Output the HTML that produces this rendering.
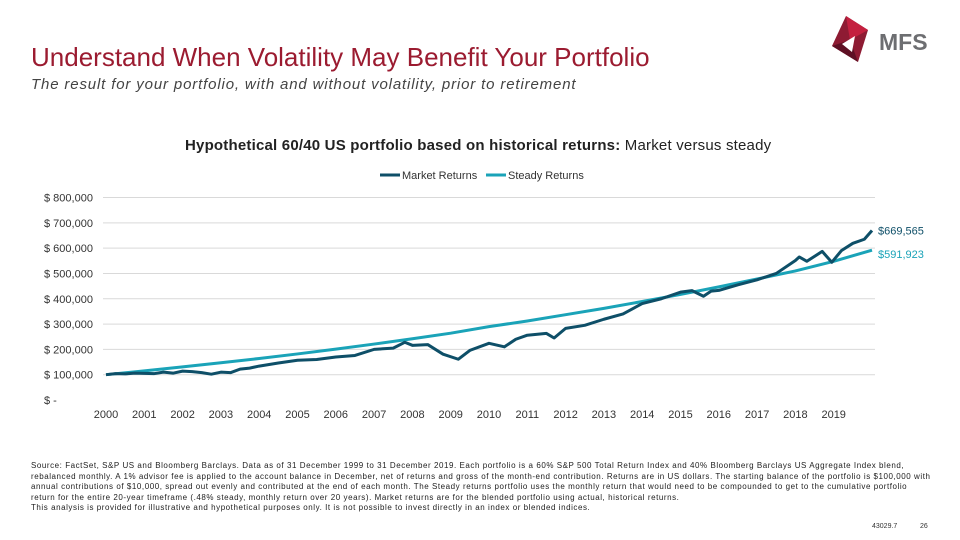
<!DOCTYPE html>
<html><head><meta charset="utf-8">
<style>
body{margin:0;width:960px;height:540px;background:#fff;font-family:"Liberation Sans",sans-serif;overflow:hidden;position:relative}
.abs{position:absolute;white-space:nowrap}
.fn div{white-space:nowrap}
</style></head><body>
<div class="abs" style="left:31px;top:42px;font-size:26px;color:#9b1b30">Understand When Volatility May Benefit Your Portfolio</div>
<div class="abs" style="left:31px;top:76px;font-size:15px;letter-spacing:0.85px;font-style:italic;color:#444">The result for your portfolio, with and without volatility, prior to retirement</div>
<svg class="abs" style="left:828px;top:14px" width="120" height="52" viewBox="0 0 120 52">
<polygon points="18,2 40,16 30,48 4,32" fill="#8e1b33"/><polygon points="18,2 40,16 22,26" fill="#c4203f"/><polygon points="4,32 22,26 30,48" fill="#5e1024"/><polygon points="14,30 27,22 24,38" fill="#fff"/>
<text x="51" y="36" font-size="23" font-weight="bold" fill="#6d6e71" font-family="Liberation Sans,sans-serif">MFS</text></svg>
<div class="abs" style="left:185px;top:137px;font-size:15px;letter-spacing:0.2px;color:#222"><b>Hypothetical 60/40 US portfolio based on historical returns:</b> Market versus steady</div>
<svg id="chart" class="abs" style="left:0;top:160px" width="960" height="270"></svg>
<div class="abs fn" style="left:31px;top:461px;font-size:8px;letter-spacing:0.55px;line-height:10.5px;color:#222">
<div>Source: FactSet, S&amp;P US and Bloomberg Barclays. Data as of 31 December 1999 to 31 December 2019. Each portfolio is a 60% S&amp;P 500 Total Return Index and 40% Bloomberg Barclays US Aggregate Index blend,</div>
<div>rebalanced monthly. A 1% advisor fee is applied to the account balance in December, net of returns and gross of the month-end contribution. Returns are in US dollars. The starting balance of the portfolio is $100,000 with</div>
<div>annual contributions of $10,000, spread out evenly and contributed at the end of each month. The Steady returns portfolio uses the monthly return that would need to be compounded to get to the cumulative portfolio</div>
<div>return for the entire 20-year timeframe (.48% steady, monthly return over 20 years). Market returns are for the blended portfolio using actual, historical returns.</div>
</div>
<div class="abs" style="left:31px;top:503px;font-size:8px;letter-spacing:0.55px;color:#222">This analysis is provided for illustrative and hypothetical purposes only. It is not possible to invest directly in an index or blended indices.</div>
<div class="abs" style="left:872px;top:523px;font-size:7px;color:#333">43029.7</div>
<div class="abs" style="left:920px;top:523px;font-size:7px;color:#333">26</div>
<script>
const yTicks=[0,100000,200000,300000,400000,500000,600000,700000,800000];
const yTickLabels=["$ -","$ 100,000","$ 200,000","$ 300,000","$ 400,000","$ 500,000","$ 600,000","$ 700,000","$ 800,000"];
const xYears=[2000,2001,2002,2003,2004,2005,2006,2007,2008,2009,2010,2011,2012,2013,2014,2015,2016,2017,2018,2019];
const steadyYears=[2000,2001,2002,2003,2004,2005,2006,2007,2008,2009,2010,2011,2012,2013,2014,2015,2016,2017,2018,2019,2020];
const steadyValues=[100000,115000,131000,147000,164000,182000,201000,221000,242000,264000,290000,312000,337000,362000,389000,417000,447000,478000,510000,548000,591923];
const marketYears=[2000,2000.25,2000.5,2000.75,2001,2001.25,2001.5,2001.75,2002,2002.25,2002.5,2002.75,2003,2003.25,2003.5,2003.75,2004,2004.5,2005,2005.5,2006,2006.5,2007,2007.5,2007.8,2008,2008.4,2008.8,2009.2,2009.5,2010,2010.4,2010.7,2011,2011.5,2011.7,2012,2012.5,2013,2013.5,2014,2014.5,2015,2015.3,2015.6,2015.8,2016,2016.5,2017,2017.5,2018,2018.1,2018.3,2018.7,2018.95,2019.2,2019.5,2019.8,2020];
const marketValues=[100000,104000,103000,106000,105000,104000,110000,106000,114000,112000,108000,102000,110000,108000,122000,126000,134000,146000,157000,160000,170000,176000,200000,205000,228000,216000,219000,181000,161000,196000,224000,210000,240000,256000,263000,245000,283000,295000,319000,340000,381000,400000,426000,432000,410000,430000,433000,455000,475000,500000,551000,565000,548000,587000,544000,590000,619000,635000,669565];
const X0=106,X1=872,YB=240,YT=37.5;
const xs=y=>X0+(y-2000)/20*(X1-X0);
const ys=v=>YB-v/800000*(YB-YT);
const svg=document.getElementById('chart');const NS='http://www.w3.org/2000/svg';
function mk(t,a){const e=document.createElementNS(NS,t);for(const k in a)e.setAttribute(k,a[k]);svg.appendChild(e);return e;}
yTicks.forEach((v,i)=>{
 if(v>0){const g=mk('line',{x1:103,x2:875,y1:ys(v),y2:ys(v),stroke:'#d9d9d9','stroke-width':1});
 
 }
 const t=mk('text',{x:44,y:ys(v)+4,'font-size':11,fill:'#333','font-family':'Liberation Sans,sans-serif'});t.textContent=yTickLabels[i];
 
 
});
xYears.forEach(y=>{const t=mk('text',{x:xs(y),y:258,'font-size':11,fill:'#333','text-anchor':'middle','font-family':'Liberation Sans,sans-serif'});t.textContent=y;
 
 });
const sp=mk('polyline',{points:steadyYears.map((y,i)=>xs(y)+','+ys(steadyValues[i])).join(' '),fill:'none',stroke:'#1aa3b8','stroke-width':3});


const mp=mk('polyline',{points:marketYears.map((y,i)=>xs(y)+','+ys(marketValues[i])).join(' '),fill:'none',stroke:'#0e4f68','stroke-width':3,'stroke-linejoin':'round'});


const fmt=v=>'$'+Math.round(v).toLocaleString('en-US');
const ml=mk('text',{x:878,y:ys(marketValues[marketValues.length-1])+4,'font-size':11,fill:'#0e4f68','font-family':'Liberation Sans,sans-serif'});ml.textContent=fmt(marketValues[marketValues.length-1]);


const sl=mk('text',{x:878,y:ys(steadyValues[steadyValues.length-1])+8,'font-size':11,fill:'#1aa3b8','font-family':'Liberation Sans,sans-serif'});sl.textContent=fmt(steadyValues[steadyValues.length-1]);


const l1=mk('line',{x1:380,x2:400,y1:15,y2:15,stroke:'#0e4f68','stroke-width':3});


const t1=mk('text',{x:402,y:19,'font-size':11,fill:'#333','font-family':'Liberation Sans,sans-serif'});t1.textContent='Market Returns';


const l2=mk('line',{x1:486,x2:506,y1:15,y2:15,stroke:'#1aa3b8','stroke-width':3});


const t2=mk('text',{x:508,y:19,'font-size':11,fill:'#333','font-family':'Liberation Sans,sans-serif'});t2.textContent='Steady Returns';


</script>
</body></html>
